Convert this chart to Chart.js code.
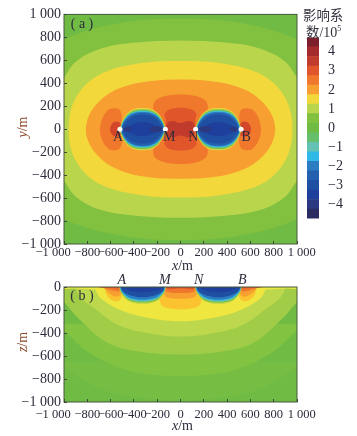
<!DOCTYPE html>
<html lang="zh">
<head>
    <meta charset="UTF-8">
    <title>影响系数</title>
    <script src="https://cdn.jsdelivr.net/npm/chart.js"></script>
    <style>
        body { margin: 0; background: #fff; width: 357px; height: 436px; overflow: hidden; }
        canvas { position: absolute; left: 0; }
        .lab { position: absolute; font: 14px "Liberation Serif", serif; color: #2c2c3c; white-space: nowrap; }
        .brown { color: #8a4a2a; }
        .rot { transform: translate(-50%, -50%) rotate(-90deg); }
        .cjk { font: 13.4px "Noto Sans CJK SC", sans-serif; color: #33333f; }
        sup { font-size: 8px; line-height: 0; }
    </style>
</head>
<body>
    <canvas id="chartA" width="357" height="262" style="top:0"></canvas>
    <canvas id="chartB" width="357" height="160" style="top:262px"></canvas>
    <canvas id="chartBar" width="57" height="200" style="left:300px;top:28px"></canvas>

    <div class="lab cjk" style="left:303px;top:4px">影响系</div>
    <div class="lab cjk" style="left:306px;top:21px">数<span style="font:14px 'Liberation Serif'">/10<sup>5</sup></span></div>
    <div class="lab brown rot" style="left:23px;top:127px"><i>y</i>/m</div>
    <div class="lab brown rot" style="left:23px;top:342px"><i>z</i>/m</div>
    <div class="lab" style="left:172px;top:258px"><i>x</i>/m</div>
    <div class="lab" style="left:172px;top:418px"><i>x</i>/m</div>

    <script>
        // tick labels, the two end ones are pushed out with padding like in the figure
        const pad = '\u00a0\u00a0\u00a0\u00a0\u00a0\u00a0\u00a0';
        const xTicks = ['−1 000' + pad, '−800', '−600', '−400', '−200', '0', '200', '400', '600', '800', '\u00a0\u00a0\u00a01 000'];
        const yTicksA = ['−1 000', '−800', '−600', '−400', '−200', '0', '200', '400', '600', '800', '1 000'];
        const yTicksB = ['−1 000', '−800', '−600', '−400', '−200', '0'];
        const barTicks = ['−4', '−3', '−2', '−1', '0', '1', '2', '3', '4'];

        // colour bar, from bottom to top (one cell = 0.5)
        const barEdges = [-4.75, -4.25, -3.75, -3.25, -2.75, -2.25, -1.75, -1.25, -0.75, -0.25, 0.25, 0.75, 1.25, 1.75, 2.25, 2.75, 3.25, 3.75, 4.25, 4.75];
        const barColors = ['#2a2c60', '#2b3a80', '#1e3f9b', '#1f4fa3', '#2560ae', '#2b7cc0', '#2fb9e6', '#63c2b4', '#67bf6b', '#6fbb44',
            '#82c040', '#b9d54c', '#f3d83c', '#f79f31', '#f0782d', '#e0552a', '#c03b2b', '#a52a2e', '#7d1f2b'];

        // electrodes
        const names = ['A', 'M', 'N', 'B'];
        const electrodeX = [-520, -130, 130, 520];
        const electrodeY = [0, 0, 0, 0];

        // panel a, contour lines, upper left quarter only
        const aGreen = [[-1300, 0], [-1300, 600], [-1000, 780], [-800, 860], [-500, 930], [-250, 958], [0, 965]];
        const aLime = [[-1150, 0], [-1100, 360], [-1000, 450], [-922, 565], [-807, 651], [-635, 717], [-406, 752], [0, 772]];
        const aYellow = [[-960, 0], [-945, 150], [-890, 290], [-780, 420], [-620, 510], [-400, 565], [-200, 590], [0, 595]];
        const aOrange = [[-813, 0], [-790, 110], [-720, 220], [-600, 320], [-440, 385], [-250, 420], [0, 432]];
        const aMidLobe1 = [[-128, 0], [-165, 60], [-210, 120], [-235, 190], [-215, 250], [-130, 290], [0, 303]];
        const aMidLobe2 = [[-128, 0], [-128, 90], [-138, 130], [-100, 170], [0, 187]];
        const aMidLobe3 = [[-125, 0], [-110, 55], [-70, 72], [0, 55]];
        const aOuterLobe1 = [[-692, 0], [-670, 100], [-625, 165], [-590, 181], [-530, 175], [-505, 130], [-505, 60], [-492, 0]];
        const aOuterLobe2 = [[-606, 0], [-590, 45], [-555, 66], [-525, 60], [-505, 30], [-492, 0]];
        const aDisc = [
            [[-520, 0], [-505, 60], [-463, 132], [-420, 165], [-380, 180], [-325, 184]],
            [[-518, 0], [-503, 59], [-461, 128], [-419, 160], [-379, 174], [-325, 178]],
            [[-516, 0], [-501, 58], [-459, 124], [-417, 155], [-378, 168], [-325, 172]],
            [[-514, 0], [-499, 57], [-457, 120], [-415, 150], [-377, 163], [-325, 166]],
            [[-512, 0], [-497, 56], [-455, 117], [-413, 145], [-376, 157], [-325, 160]],
            [[-510, 0], [-495, 55], [-454, 114], [-412, 141], [-375, 153], [-325, 156]],
            [[-508, 0], [-493, 54], [-452, 110], [-410, 136], [-373, 147], [-325, 150]],
            [[-505, 0], [-490, 52], [-448, 104], [-406, 128], [-370, 139], [-325, 142]],
            [[-498, 0], [-480, 46], [-438, 92], [-397, 114], [-362, 122], [-325, 125]],
            [[-480, 0], [-445, 26], [-400, 48], [-360, 58], [-325, 60]]
        ];
        const aDiscColors = ['#f3d83c', '#b9d54c', '#82c040', '#67bf6b', '#63c2b4', '#2fb9e6', '#2b7cc0', '#2560ae', '#1f4fa3', '#1e3f9b'];
        const aLensNearA = [[-494, 0], [-470, 18], [-450, 22], [-420, 0]];
        const aLensNearM = [[-270, 0], [-240, 22], [-200, 28], [-170, 18], [-148, 0]];

        // panel b, left half
        const bDeep1 = [[-1100, -650], [-1000, -700], [-700, -880], [-350, -960], [0, -985]];
        const bDeep2 = [[-1100, -320], [-1000, -380], [-800, -560], [-500, -710], [-250, -760], [0, -775]];
        const bMid = [[-1100, 60], [-1100, -60], [-1000, -130], [-880, -270], [-620, -490], [-300, -570], [0, -587]];
        const bLime = [[-905, 60], [-905, 0], [-850, -100], [-750, -178], [-520, -338], [-233, -410], [0, -430]];
        const bYellow = [[-736, 60], [-736, 0], [-678, -107], [-463, -222], [-205, -280], [0, -298]];
        const bStrip = [[-1100, 60], [-1100, -10], [-900, -14], [-740, -22], [0, -22]];
        const bMidLobe1 = [[-130, 60], [-130, 0], [-160, -70], [-178, -120], [-150, -170], [-70, -190], [0, -194]];
        const bMidLobe2 = [[-128, 60], [-128, 0], [-140, -50], [-125, -85], [-60, -100], [0, -102]];
        const bMidLobe3 = [[-128, 60], [-128, -30], [-90, -48], [0, -52]];
        const bMidLobe4 = [[-125, 60], [-120, -12], [0, -14]];
        const bSideLobe1 = [[-655, 60], [-650, 0], [-635, -70], [-590, -112], [-530, -120], [-497, -60], [-505, 0], [-505, 60]];
        const bSideLobe2 = [[-665, 60], [-660, 0], [-630, -40], [-580, -75], [-530, -80], [-505, -40], [-510, 0], [-510, 60]];
        const bSideLobe3 = [[-705, 60], [-700, 0], [-640, -12], [-570, -35], [-530, -38], [-510, -15], [-515, 0], [-515, 60]];
        const bSideLobe4 = [[-685, 60], [-680, 0], [-600, -8], [-530, -12], [-515, 0], [-515, 60]];
        const bBowl = [
            [[-525, 60], [-525, 0], [-510, -50], [-460, -112], [-390, -141], [-325, -145]],
            [[-522, 60], [-522, 0], [-507, -48], [-457, -106], [-388, -131], [-325, -135]],
            [[-520, 60], [-520, 0], [-505, -46], [-455, -98], [-386, -121], [-325, -125]],
            [[-518, 60], [-518, 0], [-503, -44], [-453, -92], [-384, -114], [-325, -118]],
            [[-516, 60], [-516, 0], [-500, -42], [-448, -86], [-380, -106], [-325, -110]],
            [[-512, 60], [-512, 0], [-494, -38], [-438, -70], [-372, -86], [-325, -90]],
            [[-505, 60], [-505, 0], [-475, -18], [-415, -36], [-365, -43], [-325, -45]]
        ];
        const bBowlColors = ['#b9d54c', '#82c040', '#63c2b4', '#2fb9e6', '#2b7cc0', '#1f4fa3', '#1e3f9b'];

        // close a half outline by reflecting it
        function mirrorX(arc, cx = 0) {
            return arc.concat(arc.slice(0, -1).reverse().map(p => [2 * cx - p[0], p[1]]));
        }
        function mirrorY(arc) {
            return arc.concat(arc.slice(0, -1).reverse().map(p => [p[0], -p[1]]));
        }
        function flipX(arc) {
            return arc.map(p => [-p[0], p[1]]);
        }

        function shape(arc, color) {
            // run one point past the seam so the curve has no kink there
            const first = arc[0], last = arc[arc.length - 1];
            const pts = first[0] === last[0] && first[1] === last[1] ? arc.concat([arc[1]]) : arc;
            return {
                data: pts.map(p => ({ x: p[0], y: p[1] })),
                showLine: true, fill: 'shape', backgroundColor: color,
                borderWidth: 0, pointRadius: 0, tension: 0.35, capBezierPoints: false
            };
        }

        // listed from the back to the front
        const aShapes = [
            shape(mirrorY(mirrorX(aGreen)), '#82c040'),
            shape(mirrorY(mirrorX(aLime)), '#b9d54c'),
            shape(mirrorY(mirrorX(aYellow)), '#f3d83c'),
            shape(mirrorY(mirrorX(aOrange)), '#f79f31'),
            shape(mirrorY(mirrorX(aMidLobe1)), '#f0782d'),
            shape(mirrorY(mirrorX(aMidLobe2)), '#e0552a'),
            shape(mirrorY(mirrorX(aMidLobe3)), '#c03b2b'),
            shape(mirrorY(aOuterLobe1), '#f0782d'),
            shape(mirrorY(flipX(aOuterLobe1)), '#f0782d'),
            shape(mirrorY(aOuterLobe2), '#d2462a'),
            shape(mirrorY(flipX(aOuterLobe2)), '#d2462a')
        ];
        aDisc.forEach((arc, i) => {
            const full = mirrorY(mirrorX(arc, -325));
            aShapes.push(shape(full, aDiscColors[i]), shape(flipX(full), aDiscColors[i]));
        });
        [aLensNearA, aLensNearM].forEach(arc => {
            aShapes.push(shape(mirrorY(arc), '#2b3a80'), shape(mirrorY(flipX(arc)), '#2b3a80'));
        });

        const bShapes = [
            shape(mirrorX(bDeep1), '#76be43'),
            shape(mirrorX(bDeep2), '#82c341'),
            shape(mirrorX(bMid), '#a0cc48'),
            shape(mirrorX(bLime), '#bdd84d'),
            shape(mirrorX(bYellow), '#efe640'),
            shape(mirrorX(bStrip), '#efe640'),
            shape(mirrorX(bMidLobe1), '#fbc330'),
            shape(mirrorX(bMidLobe2), '#f79f31'),
            shape(mirrorX(bMidLobe3), '#f0782d'),
            shape(mirrorX(bMidLobe4), '#e0552a')
        ];
        [[bSideLobe1, '#fbc330'], [bSideLobe2, '#f79f31'], [bSideLobe3, '#f0782d'], [bSideLobe4, '#e0552a']].forEach(([arc, color]) => {
            bShapes.push(shape(arc, color), shape(flipX(arc), color));
        });
        bBowl.forEach((arc, i) => {
            const full = mirrorX(arc, -325);
            bShapes.push(shape(full, bBowlColors[i]), shape(flipX(full), bBowlColors[i]));
        });

        const tickFont = { family: '"Liberation Serif", serif', size: 14 };
        const xTickFont = { family: '"Liberation Serif", serif', size: 12.5 };

        function axes(yMin, yMax, yLabels, xPad) {
            return {
                x: {
                    type: 'linear', min: -1000, max: 1000,
                    afterFit: s => { s.height = 18; },
                    grid: { drawOnChartArea: false, tickLength: -3, tickColor: '#3c4a34', z: 1 },
                    border: { display: false },
                    ticks: { stepSize: 200, padding: xPad, maxRotation: 0, autoSkip: false, font: xTickFont, color: '#2c2c3c', callback: (v, i) => xTicks[i] }
                },
                y: {
                    type: 'linear', min: yMin, max: yMax,
                    afterFit: s => { s.width = 64; },
                    grid: { drawOnChartArea: false, tickLength: -3, tickColor: '#3c4a34', z: 1 },
                    border: { display: false },
                    ticks: { stepSize: 200, padding: 6, autoSkip: false, font: tickFont, color: '#2c2c3c', callback: (v, i) => yLabels[i] }
                }
            };
        }

        // plot background and frame
        const panelPlugin = {
            id: 'panel',
            beforeDatasetsDraw(chart) {
                const a = chart.chartArea;
                chart.ctx.fillStyle = '#6fbb44';
                chart.ctx.fillRect(a.left, a.top, a.width, a.height);
            },
            afterDatasetsDraw(chart) {
                const a = chart.chartArea, c = chart.ctx;
                c.save();
                c.strokeStyle = '#47583c';
                c.lineWidth = 1;
                c.strokeRect(a.left, a.top, a.width, a.height);
                c.restore();
            }
        };

        function textPlugin(items) {
            return {
                id: 'notes',
                afterDraw(chart) {
                    const c = chart.ctx;
                    c.save();
                    c.fillStyle = '#2c2c3c';
                    c.textAlign = 'center';
                    c.textBaseline = 'middle';
                    items(chart, c);
                    c.restore();
                }
            };
        }

        new Chart(document.getElementById('chartA'), {
            type: 'scatter',
            data: {
                datasets: [{
                    data: electrodeX.map((x, i) => ({ x: x, y: electrodeY[i] })),
                    pointRadius: 2.5, pointBackgroundColor: '#fff', pointBorderWidth: 0
                }].concat(aShapes.slice().reverse())
            },
            options: {
                responsive: false, animation: false, events: [],
                layout: { padding: { top: 13, right: 60 } },
                plugins: { legend: { display: false }, tooltip: { enabled: false } },
                scales: axes(-1000, 1000, yTicksA, 4)
            },
            plugins: [panelPlugin, textPlugin((chart, c) => {
                c.font = '14px "Liberation Serif", serif';
                c.fillText('( a )', 82, 24);
                const lx = [-535, -96, 110, 563];
                names.forEach((n, i) => {
                    c.fillText(n, chart.scales.x.getPixelForValue(lx[i]), chart.scales.y.getPixelForValue(-72));
                });
            })]
        });

        new Chart(document.getElementById('chartB'), {
            type: 'scatter',
            data: { datasets: bShapes.slice().reverse() },
            options: {
                responsive: false, animation: false, events: [],
                layout: { padding: { top: 25, right: 60, bottom: 2 } },
                plugins: { legend: { display: false }, tooltip: { enabled: false } },
                scales: axes(-1000, 0, yTicksB, 8)
            },
            plugins: [panelPlugin, textPlugin((chart, c) => {
                c.font = '14px "Liberation Serif", serif';
                c.fillText('( b )', 82, 34);
                c.font = 'italic 14px "Liberation Serif", serif';
                const lx = [-505, -135, 155, 530];
                names.forEach((n, i) => {
                    c.fillText(n, chart.scales.x.getPixelForValue(lx[i]), 18);
                });
            })]
        });

        new Chart(document.getElementById('chartBar'), {
            type: 'bar',
            data: {
                labels: ['c'],
                datasets: barColors.map((color, i) => ({
                    data: [[barEdges[i], barEdges[i + 1]]],
                    backgroundColor: color, barPercentage: 1, categoryPercentage: 1, grouped: false
                }))
            },
            options: {
                responsive: false, animation: false, events: [],
                layout: { padding: { left: 7, top: 8, bottom: 7 } },
                plugins: { legend: { display: false }, tooltip: { enabled: false } },
                scales: {
                    x: { display: false },
                    y: {
                        position: 'right', min: -4.75, max: 4.75,
                        afterFit: s => { s.width = 38; },
                        afterBuildTicks: s => { s.ticks = barTicks.map((t, i) => ({ value: i - 4 })); },
                        grid: { display: false }, border: { display: false },
                        ticks: { padding: 1, font: tickFont, color: '#2c2c3c', autoSkip: false, callback: (v, i) => barTicks[i] }
                    }
                }
            }
        });
    </script>
</body>
</html>
